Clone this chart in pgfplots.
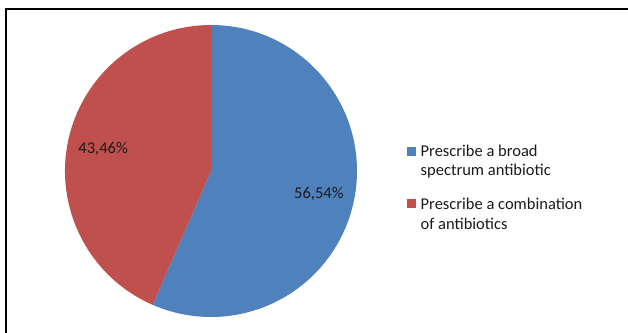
\documentclass[border=0pt]{standalone}
\usepackage{fontspec}
\setmainfont{Carlito}
\usepackage{pgfplots}
\usepackage{pgfplotstable}
\pgfplotsset{compat=1.18}

\definecolor{pieblue}{HTML}{4F81BD}
\definecolor{piered}{HTML}{C0504D}
\definecolor{txt}{HTML}{1A1A1A}

% share of respondents, percent
\pgfplotstableread{
share
56.54
43.46
}\piedata

\begin{document}
\begin{tikzpicture}[font=\fontsize{16.5bp}{20bp}\selectfont, text=txt]
\useasboundingbox (0,0) rectangle (628bp,333bp);
% chart frame (top and left edges only visible)
\draw[line width=2bp] (6bp,0) -- (6bp,324bp) -- (628bp,324bp);

\pgfplotstablegetelem{0}{share}\of\piedata \let\shareA\pgfplotsretval
\pgfplotstablegetelem{1}{share}\of\piedata \let\shareB\pgfplotsretval
\pgfmathsetmacro\angA{90-3.6*\shareA}
\pgfmathsetmacro\angB{\angA-3.6*\shareB}
\pgfmathsetmacro\midA{(90+\angA)/2}
\pgfmathsetmacro\midB{(\angA+\angB)/2}

\begin{axis}[
    at={(211bp,162bp)}, anchor=center,
    x=146bp, y=146bp,
    xmin=-1, xmax=1, ymin=-1, ymax=1,
    hide axis, clip=false,
    /pgf/number format/.cd, fixed, fixed zerofill, precision=2, use comma,
    assume math mode=true
]
\fill[pieblue] (axis cs:0,0) -- (axis cs:0,1)
    arc[start angle=90, end angle=\angA, radius=146bp] -- cycle;
\fill[piered] (axis cs:0,0) -- (axis cs:{cos(\angA)},{sin(\angA)})
    arc[start angle=\angA, end angle=\angB, radius=146bp] -- cycle;
\node at (axis cs:{0.755*cos(\midA)},{0.755*sin(\midA)})
    {\pgfmathprintnumber{\shareA}\%};
\node at (axis cs:{0.755*cos(\midB)},{0.755*sin(\midB)})
    {\pgfmathprintnumber{\shareB}\%};
\end{axis}

% legend
\fill[pieblue] (407bp,177bp) rectangle (416bp,186bp);
\node[anchor=base west, inner sep=0pt] at (420.5bp,176.5bp) {Prescribe a broad};
\node[anchor=base west, inner sep=0pt] at (420.5bp,157bp) {spectrum antibiotic};
\fill[piered] (407bp,124.5bp) rectangle (416bp,133.5bp);
\node[anchor=base west, inner sep=0pt] at (420.5bp,123bp) {Prescribe a combination};
\node[anchor=base west, inner sep=0pt] at (420.5bp,103.5bp) {of antibiotics};
\end{tikzpicture}
\end{document}
